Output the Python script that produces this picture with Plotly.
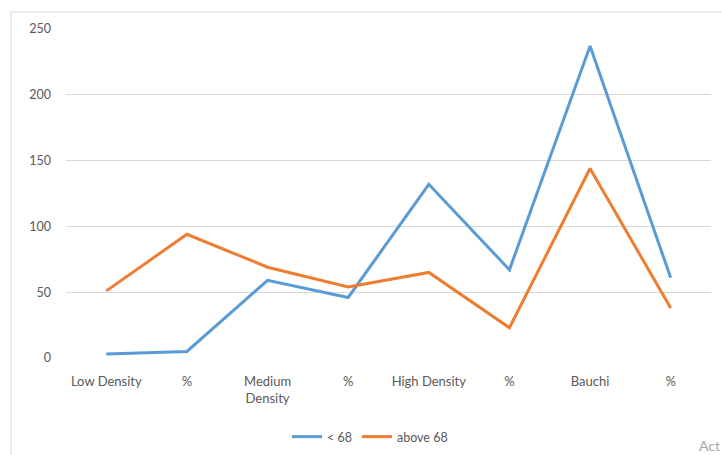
import plotly.graph_objects as go

categories = ["Low Density", "%", "Medium<br>Density", "%", "High Density", "%", "Bauchi", "%"]
cat_ids = ["c0", "c1", "c2", "c3", "c4", "c5", "c6", "c7"]
below_68 = [3, 5, 59, 46, 132, 67, 237, 61]
above_68 = [51, 94, 69, 54, 65, 23, 144, 38]
y_ticks = [0, 50, 100, 150, 200, 250]

W, H = 722, 455
ml, mr, mt, mb = 66, 11, 29, 97

fig = go.Figure()
fig.add_trace(go.Scatter(x=cat_ids, y=below_68, mode="lines", name="< 68",
                         line=dict(color="#5B9BD5", width=3)))
fig.add_trace(go.Scatter(x=cat_ids, y=above_68, mode="lines", name="above 68",
                         line=dict(color="#ED7D31", width=3)))

pw = W - ml - mr
ph = H - mt - mb
def px_x(x):
    return (x - ml) / pw
def px_y(y):
    return (H - mb - y) / ph

fig.add_shape(type="rect", xref="paper", yref="paper",
              x0=px_x(11), x1=px_x(740), y0=px_y(12), y1=px_y(470),
              line=dict(color="#D9D9D9", width=1), fillcolor="rgba(0,0,0,0)", layer="below")

fig.add_annotation(text="Act", xref="paper", yref="paper", x=px_x(698), y=px_y(445),
                   xanchor="left", yanchor="middle", showarrow=False, borderpad=0,
                   font=dict(family="Lato, sans-serif", size=14, color="#A6A6A6"))

fig.update_layout(
    width=W, height=H,
    margin=dict(l=ml, r=mr, t=mt, b=mb, autoexpand=False),
    paper_bgcolor="white", plot_bgcolor="white",
    font=dict(family="Lato, 'Open Sans', sans-serif", size=12, color="#595959"),
    showlegend=True,
    legend=dict(orientation="h", x=px_x(370), xanchor="center", y=px_y(437), yanchor="middle",
                font=dict(size=12.5, color="#595959"), itemwidth=30, tracegroupgap=0),
    xaxis=dict(type="category", tickmode="array", tickvals=cat_ids, ticktext=categories,
               range=[-0.5, 7.5], showgrid=False, zeroline=False, showline=False,
               ticks="", ticklabelstandoff=14, tickfont=dict(size=13), automargin=False),
    yaxis=dict(range=[0, 250], tickmode="array", tickvals=y_ticks,
               showgrid=True, gridcolor="#D9D9D9", gridwidth=1, zeroline=False,
               showline=False, ticks="", ticklabelstandoff=14, tickfont=dict(size=12.5),
               automargin=False),
)

fig.write_html("out.html")
